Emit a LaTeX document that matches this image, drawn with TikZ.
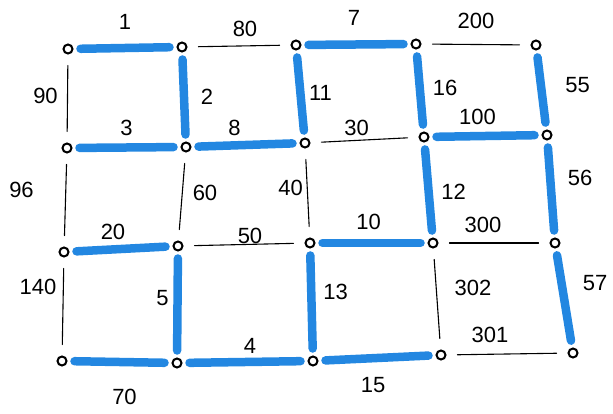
\documentclass[tikz,border=0pt]{standalone}
\usepackage{fontspec}
\setmainfont{Liberation Sans}
\usetikzlibrary{positioning}
\definecolor{penblue}{RGB}{35,135,225}

\begin{document}
\begin{tikzpicture}[x=1pt, y=-1pt,
      vtx/.style={circle, draw, line width=2pt, fill=white, minimum size=9pt, inner sep=0pt, outer sep=0pt},
      hot/.style={draw=penblue, line width=8.5pt, line cap=round, shorten <=8pt, shorten >=8pt},
      cold/.style={draw, line width=1.1pt, line cap=round, shorten <=12pt, shorten >=12pt},
      lbl/.style={font=\fontsize{22}{24}\selectfont, inner sep=0pt}]
      \useasboundingbox (0,0) rectangle (613,414);
      % vertices, row by row
      \node[vtx] (a1) at (68,49)   {};
      \node[vtx] (a2) at (182,47)  {};
      \node[vtx] (a3) at (296,45)  {};
      \node[vtx] (a4) at (416,44)  {};
      \node[vtx] (a5) at (536,45)  {};
      \node[vtx] (b1) at (67,148)  {};
      \node[vtx] (b2) at (186,147) {};
      \node[vtx] (b3) at (305,143) {};
      \node[vtx] (b4) at (424,137) {};
      \node[vtx] (b5) at (547,135) {};
      \node[vtx] (c1) at (64,252)  {};
      \node[vtx] (c2) at (178,246) {};
      \node[vtx] (c3) at (310,243) {};
      \node[vtx] (c4) at (433,243) {};
      \node[vtx] (c5) at (555,243) {};
      \node[vtx] (d1) at (62,361)  {};
      \node[vtx] (d2) at (177,363) {};
      \node[vtx] (d3) at (313,361) {};
      \node[vtx] (d4) at (441,355) {};
      \node[vtx] (d5) at (573,353) {};
      % horizontal edges
      \draw[hot]  (a1) -- node[lbl, shift={(0,-26)}]  {1}   (a2);
      \draw[cold] (a2) -- node[lbl, shift={(6,-17)}]  {80}  (a3);
      \draw[hot]  (a3) -- node[lbl, shift={(-2,-27)}] {7}   (a4);
      \draw[cold] (a4) -- node[lbl, shift={(0,-24)}]  {200} (a5);
      \draw[hot]  (b1) -- node[lbl, shift={(0,-20)}]  {3}   (b2);
      \draw[hot]  (b2) -- node[lbl, shift={(-11,-17)}]{8}   (b3);
      \draw[cold] (b3) -- node[lbl, shift={(-8,-12)}] {30}  (b4);
      \draw[hot]  (b4) -- node[lbl, shift={(-8,-19)}] {100} (b5);
      \draw[hot]  (c1) -- node[lbl, shift={(-8,-17)}] {20}  (c2);
      \draw[cold] (c2) -- node[lbl, shift={(6,-9)}]   {50}  (c3);
      \draw[hot]  (c3) -- node[lbl, shift={(-3,-21)}] {10}  (c4);
      \draw[cold] (c4) -- node[lbl, shift={(-11,-18)}]{300} (c5);
      \draw[hot]  (d1) -- node[lbl, shift={(5,35)}]   {70}  (d2);
      \draw[hot]  (d2) -- node[lbl, shift={(5,-16)}]  {4}   (d3);
      \draw[hot]  (d3) -- node[lbl, shift={(-4,27)}]  {15}  (d4);
      \draw[cold] (d4) -- node[lbl, shift={(-17,-19)}]{301} (d5);
      % vertical edges
      \draw[cold] (a1) -- node[lbl, shift={(-22,-3)}] {90}  (b1);
      \draw[hot]  (a2) -- node[lbl, shift={(23,0)}]   {2}   (b2);
      \draw[hot]  (a3) -- node[lbl, shift={(20,-1)}]  {11}  (b3);
      \draw[hot]  (a4) -- node[lbl, shift={(25,-3)}]  {16}  (b4);
      \draw[hot]  (a5) -- node[lbl, shift={(36,-5)}]  {55}  (b5);
      \draw[cold] (b1) -- node[lbl, shift={(-44,-10)}]{96}  (c1);
      \draw[cold] (b2) -- node[lbl, shift={(23,-4)}]  {60}  (c2);
      \draw[cold] (b3) -- node[lbl, shift={(-17,-5)}] {40}  (c3);
      \draw[hot]  (b4) -- node[lbl, shift={(25,2)}]   {12}  (c4);
      \draw[hot]  (b5) -- node[lbl, shift={(29,-11)}] {56}  (c5);
      \draw[cold] (c1) -- node[lbl, shift={(-25,-20)}]{140} (d1);
      \draw[hot]  (c2) -- node[lbl, shift={(-15,-6)}] {5}   (d2);
      \draw[hot]  (c3) -- node[lbl, shift={(24,-10)}] {13}  (d3);
      \draw[cold] (c4) -- node[lbl, shift={(36,-11)}] {302} (d4);
      \draw[hot]  (c5) -- node[lbl, shift={(31,-15)}] {57}  (d5);
    \end{tikzpicture}
\end{document}
